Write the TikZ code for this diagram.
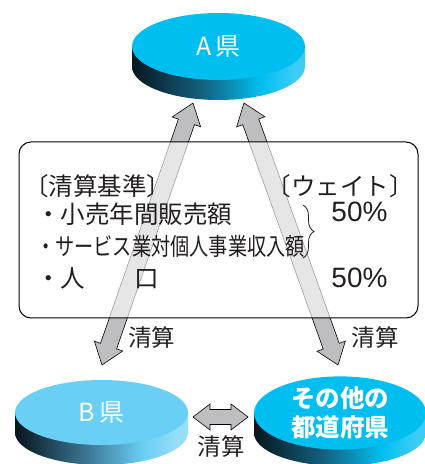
\documentclass[tikz,border=0pt]{standalone}
\usepackage{fontspec}
\setmainfont{Noto Sans CJK JP}
\newfontfamily\latinsans{Liberation Sans}
\usetikzlibrary{calc,shapes.geometric,decorations.pathreplacing}
\definecolor{faceA}{RGB}{0,190,240}
\definecolor{faceAl}{RGB}{60,205,245}
\definecolor{faceB}{RGB}{105,207,245}
\definecolor{faceBl}{RGB}{150,222,248}
\definecolor{sdark}{RGB}{8,22,30}
\definecolor{smidA}{RGB}{20,100,130}
\definecolor{smidB}{RGB}{60,120,150}
\definecolor{arrowgray}{RGB}{190,190,193}
\definecolor{textgray}{RGB}{35,31,32}
\pgfdeclarehorizontalshading{sideA}{100bp}{color(0bp)=(sdark); color(25bp)=(sdark); color(46bp)=(smidA); color(62bp)=(faceA); color(72bp)=(faceAl); color(75bp)=(faceAl); color(100bp)=(faceAl)}
\pgfdeclarehorizontalshading{sideB}{100bp}{color(0bp)=(sdark); color(25bp)=(sdark); color(46bp)=(smidB); color(62bp)=(faceB); color(72bp)=(faceBl); color(75bp)=(faceBl); color(100bp)=(faceBl)}
\newcommand\fatarrow[6]{%
  \coordinate (fa1) at ($(#1)!#5!(#2)$);
  \coordinate (fa2) at ($(#2)!#5!(#1)$);
  \path[#6] (#1) -- ($(fa1)!#4!-90:(#2)$) -- ($(fa1)!#3!-90:(#2)$) -- ($(fa2)!#3!90:(#1)$) -- ($(fa2)!#4!90:(#1)$) -- (#2) -- ($(fa2)!#4!-90:(#1)$) -- ($(fa2)!#3!-90:(#1)$) -- ($(fa1)!#3!90:(#2)$) -- ($(fa1)!#4!90:(#2)$) -- cycle;}
\newcommand\cylside[6]{%
  \shade[shading=#6] ({#1-#3},#2) -- ({#1-#3},{#2-#5}) arc[start angle=180,end angle=360,x radius=#3,y radius=#4] -- ({#1+#3},#2) -- cycle;}
\begin{document}
\begin{tikzpicture}[x=1pt,y=1pt,
  face/.style={ellipse, inner sep=0, text=white, align=center},
  fatstyle/.style={fill=arrowgray, draw=black, line width=0.6pt, line join=miter},
  boxtxt/.style={inner sep=0, text=textgray, font=\fontsize{24.5}{28}\selectfont},
  pct/.style={inner sep=0, text=textgray, font=\latinsans\fontsize{28}{32}\selectfont},
  lbl/.style={inner sep=0, text=textgray, font=\fontsize{23.5}{27}\selectfont}]
\useasboundingbox (0,0) rectangle (424,464);
% cylinders
\cylside{218.5}{417.5}{86.5}{33.5}{20}{sideA}
\node[face, fill=faceA, minimum width=173, minimum height=67, font=\fontsize{25}{29}\selectfont] (A) at (218.5,417.5) {A\hspace{4pt}県};
\cylside{101.5}{51.5}{86.5}{32.5}{20}{sideB}
\node[face, fill=faceB, minimum width=173, minimum height=65, font=\fontsize{25}{29}\selectfont] (B) at (101.5,51.5) {B\hspace{4pt}県};
\cylside{340}{51}{86}{33}{20}{sideA}
\node[face, fill=faceA, minimum width=172, minimum height=66, font=\bfseries\fontsize{24.5}{28.5}\selectfont] (O) at (340,51) {その他の\\都道府県};
% arrow ends
\coordinate (tA1) at (193,361);
\coordinate (tB) at (102,99);
\coordinate (tA2) at (244,361);
\coordinate (tO) at (338,99);
\coordinate (hB) at (193,47);
\coordinate (hO) at (248,47);
\fatarrow{tA1}{tB}{8.5pt}{15pt}{20pt}{fatstyle}
\fatarrow{tA2}{tO}{8.5pt}{15pt}{20pt}{fatstyle}
\fatarrow{hB}{hO}{7.5pt}{13pt}{17pt}{fatstyle}
% box
\node[draw=black, line width=1pt, rounded corners=12, fill=white, fill opacity=0.62, text opacity=1, minimum width=399, minimum height=176, inner sep=0] (box) at (218.5,234) {};
\node[boxtxt, anchor=west] (crit) at (24,278) {〔清算基準〕};
\node[boxtxt] (wt) at (340,278) {〔ウェイト〕};
\node[boxtxt, anchor=west] (r1) at (36,250) {・小売年間販売額};
\node[boxtxt, anchor=west] (r2) at (36,218) {\fontsize{24}{28}\selectfont\scalebox{0.8}[1]{・サービス業対個人事業収入額}};
\node[boxtxt, anchor=west] (r3) at (36,186) {・人　　口};
\node[pct] (p1) at (359.5,252) {50\%};
\node[pct] (p2) at (359.5,186) {50\%};
\coordinate (brt) at (303,259);
\coordinate (brb) at (303,206);
\draw[decorate, decoration={brace, amplitude=11pt}, line width=0.8pt, textgray] (brt) -- (brb);
% labels
\node[lbl] (s1) at (151.5,126.5) {清算};
\node[lbl] (s2) at (375,126) {清算};
\node[lbl] (s3) at (221,17.5) {清算};
\end{tikzpicture}
\end{document}
